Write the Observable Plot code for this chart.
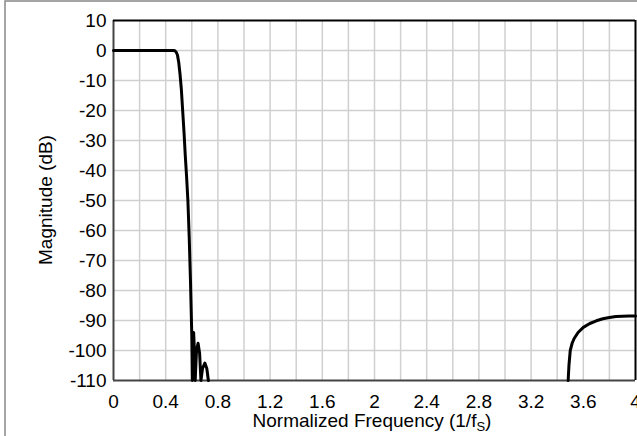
<!DOCTYPE html>
<html><head><meta charset="utf-8">
<script src="https://cdn.jsdelivr.net/npm/d3@7"></script>
<script src="https://cdn.jsdelivr.net/npm/@observablehq/plot@0.6"></script>
<style>body{margin:0;background:#fff}</style>
</head><body><div id="chart"></div>
<script>
// Passband + transition + first stopband lobes
const passFreq = [0, 0.1, 0.2, 0.3, 0.4, 0.46, 0.47, 0.48, 0.49, 0.50, 0.51, 0.52, 0.53, 0.54, 0.55, 0.56, 0.57, 0.58, 0.59, 0.60, 0.604,
  0.608, 0.614, 0.620, 0.626, 0.636, 0.648, 0.660, 0.670, 0.682, 0.700, 0.715, 0.727];
const passMag = [0, 0, 0, 0, 0, 0, -0.1, -0.5, -1.5, -4, -8, -13, -20, -27, -35, -42, -50, -62, -77, -95, -110,
  -100, -94, -100, -110, -100, -97.6, -101, -110, -106, -104.2, -106, -110];
// Image band rising near 4 fs
const imageFreq = [3.484, 3.49, 3.50, 3.515, 3.53, 3.56, 3.60, 3.65, 3.70, 3.75, 3.80, 3.85, 3.90, 3.95, 4.00];
const imageMag = [-110, -105, -100, -97.5, -96, -94, -92.3, -91, -90.1, -89.4, -89, -88.7, -88.6, -88.5, -88.5];

const xTicks = [0, 0.4, 0.8, 1.2, 1.6, 2, 2.4, 2.8, 3.2, 3.6, 4];
const xGrid = [0.2, 0.4, 0.6, 0.8, 1, 1.2, 1.4, 1.6, 1.8, 2, 2.2, 2.4, 2.6, 2.8, 3, 3.2, 3.4, 3.6, 3.8];
const yTicks = [-110, -100, -90, -80, -70, -60, -50, -40, -30, -20, -10, 0, 10];
const yGrid = [-100, -90, -80, -70, -60, -50, -40, -30, -20, -10, 0];

const pass = passFreq.map((f, i) => ({f, m: passMag[i]}));
const image = imageFreq.map((f, i) => ({f, m: imageMag[i]}));

const font = "Arial, 'Liberation Sans', sans-serif";
const plot = Plot.plot({
  width: 637, height: 436,
  marginLeft: 113, marginTop: 20, marginRight: 2, marginBottom: 56,
  style: {fontFamily: font, fontSize: "19px", color: "#000", background: "#fff"},
  x: {domain: [0, 4]},
  y: {domain: [-110, 10]},
  marks: [
    Plot.ruleX(xGrid, {stroke: "#d0d0d0", strokeWidth: 1.5}),
    Plot.ruleY(yGrid, {stroke: "#d0d0d0", strokeWidth: 1.5}),
    Plot.axisX({ticks: xTicks, tickSize: 0, tickPadding: 13.5, label: null, fontSize: 19, fill: "#000", tickFormat: d => String(d)}),
    Plot.axisY({ticks: yTicks, tickSize: 0, tickPadding: 7, label: null, fontSize: 19, fill: "#000", tickFormat: d => String(d)}),
    Plot.ruleX([0], {stroke: "#444", strokeWidth: 2}),
    Plot.ruleY([-110], {stroke: "#444", strokeWidth: 2}),
    Plot.ruleY([10], {stroke: "#000", strokeWidth: 2}),
    Plot.ruleX([4], {stroke: "#000", strokeWidth: 2}),
    Plot.line(pass, {x: "f", y: "m", stroke: "#000", strokeWidth: 3}),
    Plot.line(image, {x: "f", y: "m", stroke: "#000", strokeWidth: 3})
  ]
});
document.getElementById("chart").appendChild(plot);

const svg = d3.select(plot);
svg.append("path").attr("d", "M5,436V1H637").attr("fill", "none").attr("stroke", "#888").attr("stroke-width", 1.5);
const xt = svg.append("text").attr("x", 372).attr("y", 427).attr("text-anchor", "middle")
  .style("font-size", "19px").style("font-family", font).attr("fill", "#000");
xt.append("tspan").text("Normalized Frequency (1/f");
xt.append("tspan").style("font-size", "13px").attr("dy", 4).text("S");
xt.append("tspan").attr("dy", -4).text(")");
svg.append("text").attr("transform", "translate(52,200) rotate(-90)").attr("text-anchor", "middle")
  .style("font-size", "19px").style("font-family", font).attr("fill", "#000").text("Magnitude (dB)");
</script>
</body></html>
